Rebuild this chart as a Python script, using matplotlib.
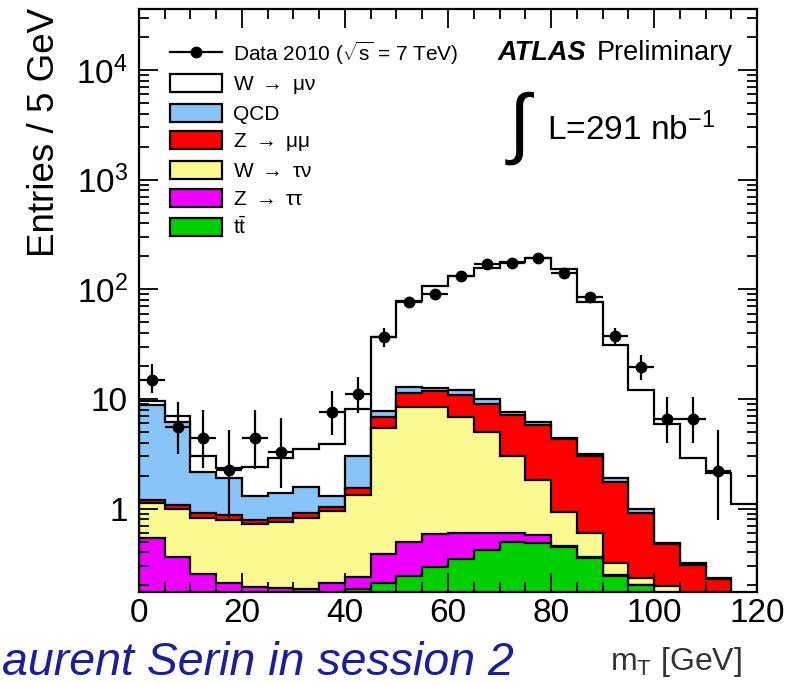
import numpy as np
import matplotlib
matplotlib.use('Agg')
import matplotlib.pyplot as plt
from matplotlib.patches import Patch
from matplotlib.lines import Line2D
from matplotlib.ticker import FixedLocator, MultipleLocator, FixedFormatter, NullFormatter

plt.rcParams['font.family'] = ['Liberation Sans', 'DejaVu Sans']
plt.rcParams['mathtext.fontset'] = 'custom'
plt.rcParams['mathtext.rm'] = 'Liberation Sans'
plt.rcParams['mathtext.it'] = 'Liberation Sans:italic'
plt.rcParams['mathtext.bf'] = 'Liberation Sans:bold'

# 5 GeV bins from 0 to 120 GeV
edges = np.arange(0, 125, 5)

# stacked MC contributions, bottom to top
ttbar = [0, 0, 0, 0, 0, 0, 0, 0, 0.185, 0.21, 0.244, 0.292, 0.346, 0.42, 0.5, 0.49,
         0.45, 0.353, 0.244, 0.2, 0, 0, 0, 0]
ztautau = [0.537, 0.36, 0.254, 0.21, 0.195, 0.19, 0.185, 0.21, 0.055, 0.176, 0.256, 0.292,
           0.25, 0.176, 0.096, 0.086, 0.007, 0.007, 0.003, 0, 0, 0, 0, 0]
wtaunu = [0.583, 0.63, 0.576, 0.58, 0.53, 0.57, 0.645, 0.74, 1.09, 5.11, 8.0, 7.92,
          6.2, 4.44, 2.42, 1.25, 0.47, 0.24, 0.075, 0.032, 0.198, 0, 0, 0]
zmumu = [0.08, 0.09, 0.08, 0.09, 0.065, 0.06, 0.08, 0.09, 0.2, 1.3, 2.8, 3.3,
         4.1, 4.06, 4.08, 3.97, 3.36, 2.42, 1.44, 0.68, 0.28, 0.307, 0.227, 0]
qcd = [7.6, 5.12, 1.24, 1.01, 0.51, 0.56, 0.68, 0.27, 1.51, 0.9, 1.7, 0.9,
       1.2, 0.85, 0.57, 0.4, 0.15, 0.11, 0.13, 0.09, 0.004, 0.011, 0.005, 0]
wmunu = [0.8, 0.8, 0.89, 0.44, 1.1, 1.5, 1.89, 2.55, 5.01, 29.3, 65, 94.3,
         119.9, 148, 170.3, 185.8, 148.6, 73.9, 29.1, 11.2, 5.42, 2.56, 1.87, 1.1]

# data 2010 with error bar ends (0 = empty bin)
data = [15, 5.6, 4.4, 2.25, 4.4, 3.3, 0, 7.6, 11.1, 36.7, 76.6, 90.6,
        132, 170, 173, 193, 141, 85, 37.5, 19.6, 6.6, 6.6, 2.2, 0]
data_hi = [20.8, 9.4, 7.9, 5.2, 7.9, 6.7, 0, 11.8, 15.8, 44, 86, 101,
           144, 184, 187, 207, 153, 95, 44, 25, 10.4, 10.4, 5.2, 0]
data_lo = [11.3, 3.15, 2.35, 0.83, 2.3, 1.54, 0, 4.7, 7.4, 29.6, 68, 81,
           121, 157, 160, 179, 129, 76, 31, 14.8, 4.0, 4.0, 0.79, 0]

labels = [r'W $\rightarrow$ μν', 'QCD', r'Z $\rightarrow$ μμ', r'W $\rightarrow$ τν',
          r'Z $\rightarrow$ ττ', r't$\bar{\mathrm{t}}$']
colors = ['white', '#88c4f8', '#ff0000', '#fafa90', '#ee00ff', '#00d000']

fig = plt.figure(figsize=(7.87, 6.85), dpi=100)
ax = fig.add_axes([0.1766, 0.1358, 0.7853, 0.8511])

layers = np.array([ttbar, ztautau, wtaunu, zmumu, qcd, wmunu])
cum = np.cumsum(layers, axis=0)
fill_colors = colors[::-1]  # bottom to top
for i in reversed(range(len(layers))):
    vals = np.where(cum[i] > 0, cum[i], 1e-3)
    ax.stairs(vals, edges, baseline=1e-3, fill=True, facecolor=fill_colors[i],
              edgecolor='black', linewidth=1.6)

centers = 0.5 * (edges[:-1] + edges[1:])
d = np.array(data, float)
hi = np.array(data_hi, float)
lo = np.array(data_lo, float)
m = d > 0
ax.errorbar(centers[m], d[m], yerr=[d[m] - lo[m], hi[m] - d[m]], xerr=2.5,
            fmt='o', color='black', ms=7.5, elinewidth=1.6, capsize=0, zorder=5)

ax.set_yscale('log')
ax.set_xlim(0, 120)
ax.set_ylim(0.174, 3.6e4)

ax.xaxis.set_major_locator(MultipleLocator(20))
ax.xaxis.set_minor_locator(MultipleLocator(5))
ax.yaxis.set_major_locator(FixedLocator([1, 10, 100, 1000, 10000]))
ax.yaxis.set_major_formatter(FixedFormatter(['1', '10', r'$10^{2}$', r'$10^{3}$', r'$10^{4}$']))
minors = [k * 10.0 ** e for e in range(-1, 5) for k in range(2, 10)]
ax.yaxis.set_minor_locator(FixedLocator(minors))
ax.yaxis.set_minor_formatter(NullFormatter())

ax.tick_params(which='both', direction='in', top=True, right=True, width=1.3, labelsize=24)
ax.tick_params(axis='y', which='major', length=14, pad=8)
ax.tick_params(axis='y', which='minor', length=7)
ax.tick_params(axis='x', which='major', length=14, pad=4)
ax.tick_params(axis='x', which='minor', length=7)
for s in ax.spines.values():
    s.set_linewidth(1.6)

handles = [Line2D([0], [0], color='black', marker='o', ms=7.5, lw=1.6)]
handles += [Patch(facecolor=c, edgecolor='black', linewidth=1.6) for c in colors]
ax.legend(handles, [r'Data 2010 ($\sqrt{\mathrm{s}}$ = 7 TeV)'] + labels,
          loc='upper left', bbox_to_anchor=(0.05, 0.948), frameon=False, fontsize=15,
          handlelength=2.5, handleheight=0.95, labelspacing=0.36, handletextpad=0.55,
          borderpad=0, borderaxespad=0)

ax.text(0.581, 0.9125, 'ATLAS', transform=ax.transAxes, fontsize=19.5,
        fontweight='bold', style='italic', va='baseline')
ax.text(0.741, 0.9125, 'Preliminary', transform=ax.transAxes, fontsize=19.5, va='baseline')
ax.text(0.617, 0.795, r'$\int$', transform=ax.transAxes, fontsize=56,
        ha='center', va='center')
ax.text(0.660, 0.775, r'L=291 nb$^{\mathregular{-1}}$', transform=ax.transAxes,
        fontsize=24, va='baseline')

fig.text(0.057, 0.988, 'Entries / 5 GeV', rotation=90, ha='center', va='top', fontsize=26.5)
fig.text(0.943, 0.022, r'm$_{\mathrm{T}}$ [GeV]', ha='right', va='baseline',
         fontsize=23, color='#333333')
# the slide crops the first letter of the speaker's name; only the visible part is shown
fig.text(0.003, 0.0146, 'aurent Serin in session 2', ha='left', va='baseline',
         fontsize=33.5, style='italic', color='#1b1f9c')

fig.savefig('out.png', dpi=100)
